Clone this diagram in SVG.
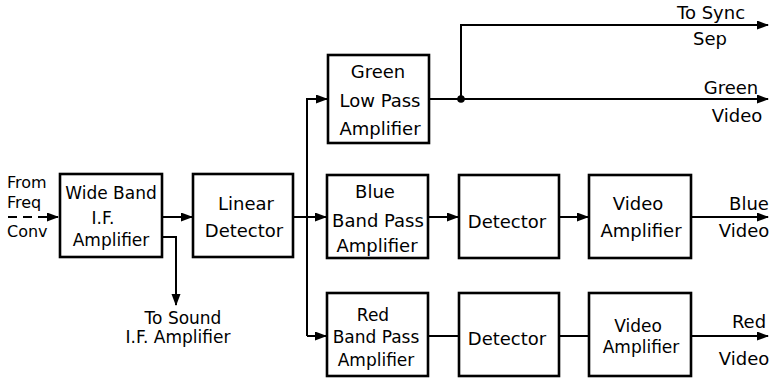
<svg xmlns="http://www.w3.org/2000/svg" width="772" height="380" viewBox="0 0 772 380">
<defs>
<style>
.box{fill:#fff;stroke:#000;stroke-width:2.6}
.ln{fill:none;stroke:#000;stroke-width:2}
.t{font-family:"DejaVu Sans","Liberation Sans",sans-serif;font-size:18px;fill:#000;text-anchor:middle}
.s{text-anchor:start}
.k{font-size:16px}
.m{font-size:17px}
</style>
<marker id="ah" markerUnits="userSpaceOnUse" markerWidth="12" markerHeight="10" refX="11" refY="4.5" orient="auto">
<path d="M0,0 L12,4.5 L0,9 z" fill="#000"/>
</marker>
</defs>
<rect width="772" height="380" fill="#fff"/>

<g id="connectors">
<path class="ln" d="M8,217 H58" stroke-dasharray="9,6" marker-end="url(#ah)"/>
<path class="ln" d="M162,217 H192" marker-end="url(#ah)"/>
<path class="ln" d="M162,237 H176 V305" marker-end="url(#ah)"/>
<path class="ln" d="M293,217 H307"/>
<path class="ln" d="M307,336 V99 H327" marker-end="url(#ah)"/>
<path class="ln" d="M307,217 H326" marker-end="url(#ah)"/>
<path class="ln" d="M307,336 H326" marker-end="url(#ah)"/>
<path class="ln" d="M429,99 H768" marker-end="url(#ah)"/>
<path class="ln" d="M461,99 V25 H768" marker-end="url(#ah)"/>
<circle cx="461" cy="99" r="3.8" fill="#000"/>
<path class="ln" d="M428,217 H458" marker-end="url(#ah)"/>
<path class="ln" d="M559,217 H588" marker-end="url(#ah)"/>
<path class="ln" d="M691,217 H768" marker-end="url(#ah)"/>
<path class="ln" d="M428,336 H459"/>
<path class="ln" d="M559,336 H589"/>
<path class="ln" d="M691,336 H768" marker-end="url(#ah)"/>
</g>

<g id="labels">
<text class="t s k" x="7" y="188">From</text>
<text class="t s k" x="7" y="208">Freq</text>
<text class="t s k" x="7" y="237">Conv</text>
<text class="t m" x="183" y="324">To Sound</text>
<text class="t m" x="178" y="343">I.F. Amplifier</text>
<text class="t" x="711" y="19">To Sync</text>
<text class="t" x="710" y="45">Sep</text>
<text class="t" x="731" y="94">Green</text>
<text class="t" x="737" y="122">Video</text>
<text class="t" x="749" y="210">Blue</text>
<text class="t" x="744" y="237">Video</text>
<text class="t" x="749" y="328">Red</text>
<text class="t" x="744" y="365">Video</text>
</g>

<g id="wideband">
<rect class="box" x="60" y="174" width="102" height="83"/>
<text class="t m" x="111" y="199">Wide Band</text>
<text class="t m" x="103" y="224">I.F.</text>
<text class="t m" x="111" y="246">Amplifier</text>
</g>

<g id="linear">
<rect class="box" x="193" y="174" width="100" height="83"/>
<text class="t" x="246" y="210">Linear</text>
<text class="t" x="244" y="237">Detector</text>
</g>

<g id="green">
<rect class="box" x="328" y="55" width="101" height="88"/>
<text class="t" x="378" y="78">Green</text>
<text class="t" x="380" y="107">Low Pass</text>
<text class="t" x="380" y="135">Amplifier</text>
</g>

<g id="blue">
<rect class="box" x="327" y="175" width="101" height="83"/>
<text class="t" x="375" y="198">Blue</text>
<text class="t" x="378" y="227">Band Pass</text>
<text class="t" x="377" y="252">Amplifier</text>
</g>

<g id="bluedet">
<rect class="box" x="459" y="175" width="100" height="83"/>
<text class="t" x="507" y="228">Detector</text>
</g>

<g id="bluevid">
<rect class="box" x="589" y="175" width="102" height="83"/>
<text class="t" x="638" y="210">Video</text>
<text class="t" x="641" y="237">Amplifier</text>
</g>

<g id="red">
<rect class="box" x="327" y="293" width="101" height="83"/>
<text class="t m" x="373" y="321">Red</text>
<text class="t m" x="376" y="343">Band Pass</text>
<text class="t m" x="376" y="366">Amplifier</text>
</g>

<g id="reddet">
<rect class="box" x="459" y="293" width="100" height="83"/>
<text class="t" x="507" y="345">Detector</text>
</g>

<g id="redvid">
<rect class="box" x="589" y="293" width="102" height="83"/>
<text class="t m" x="638" y="332">Video</text>
<text class="t m" x="641" y="353">Amplifier</text>
</g>
</svg>
